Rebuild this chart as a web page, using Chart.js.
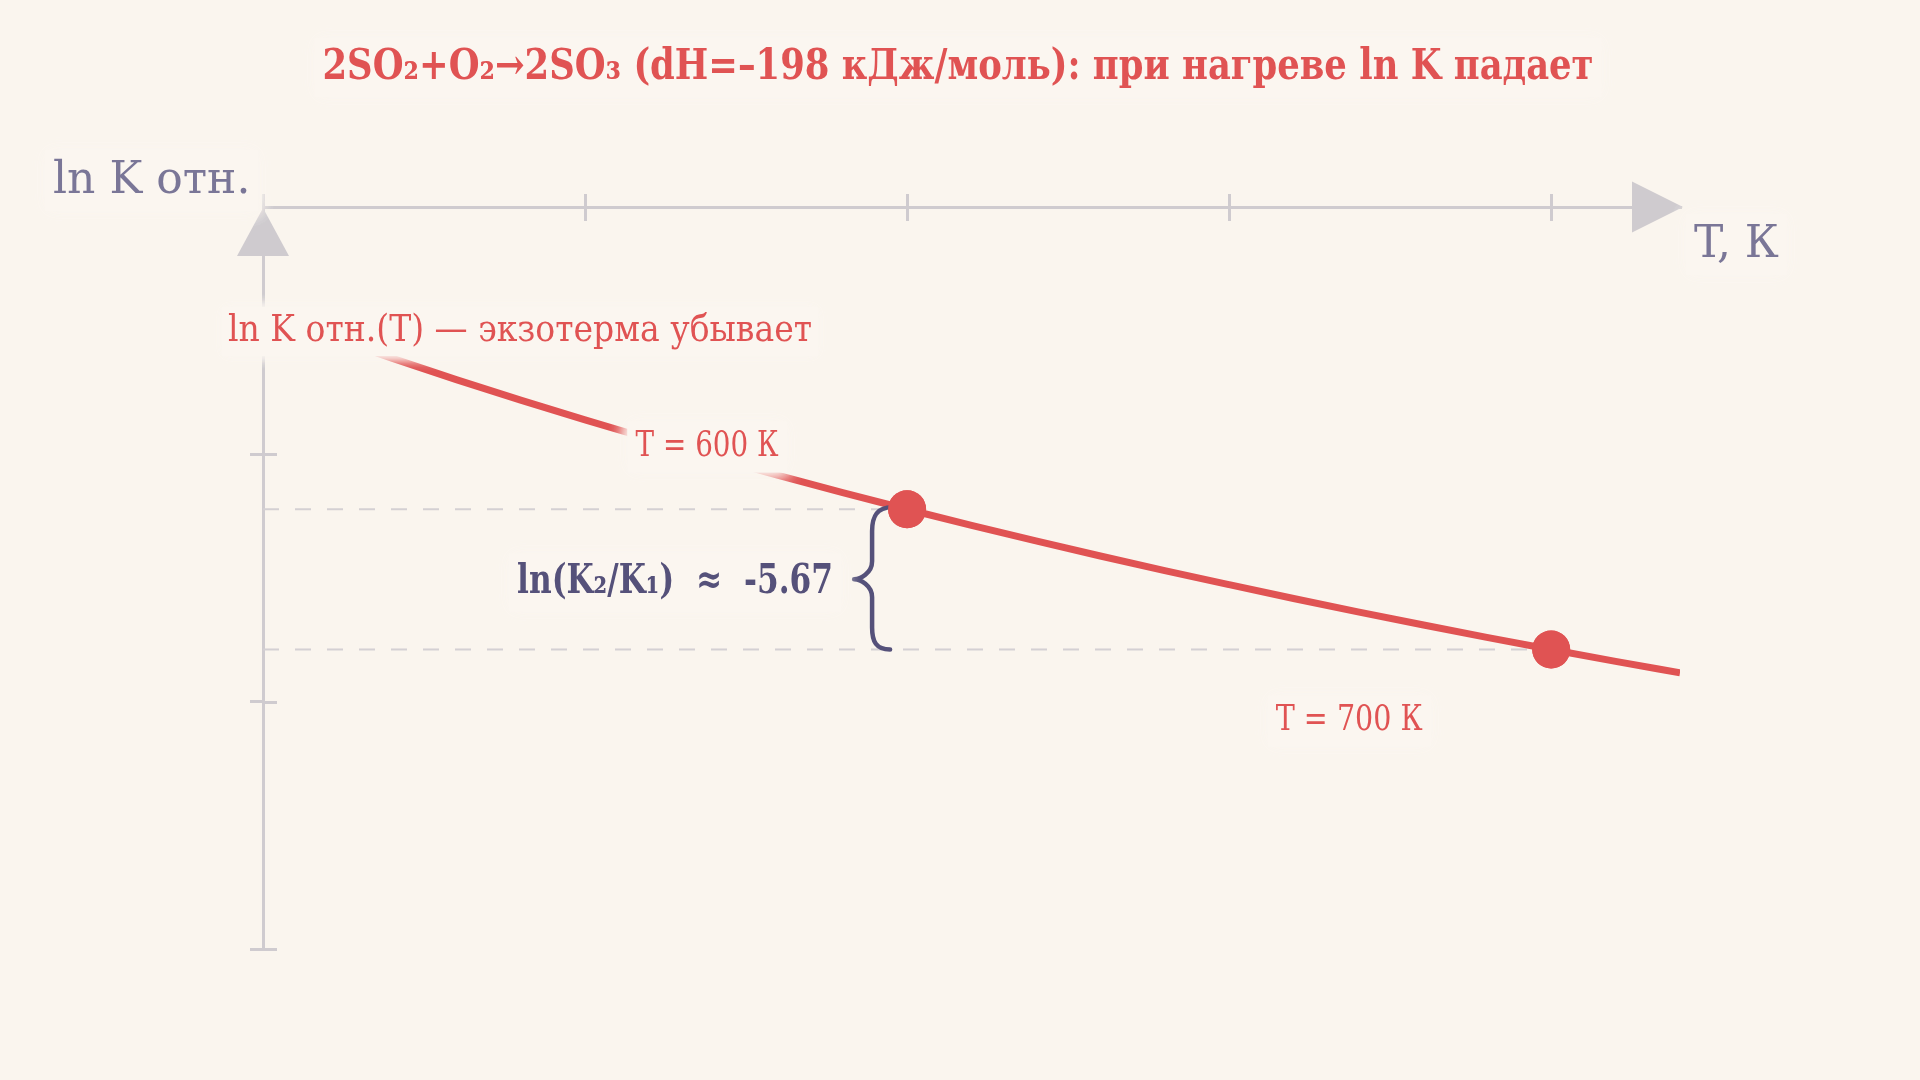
<!DOCTYPE html>
<html><head><meta charset="utf-8">
<script src="https://cdn.jsdelivr.net/npm/chart.js@4.4.1/dist/chart.umd.min.js"></script>
<style>html,body{margin:0;padding:0;background:#faf5ee;}canvas{display:block}</style>
</head><body>
<canvas id="c" width="1920" height="1080"></canvas>
<script>
// ---- data ----
const temperatures = [500,510,520,530,540,550,560,570,580,590,600,610,620,630,640,650,660,670,680,690,700,710,720];
const lnKRel = [25.72,24.79,23.89,23.02,22.19,21.39,20.62,19.87,19.15,18.45,17.78,17.13,16.50,15.89,15.30,14.73,14.17,13.63,13.11,12.60,12.11,11.63,11.17];
const markerT = [600, 700];
const markerLnK = [17.78, 12.11];
const xTicks = [500, 550, 600, 650, 700];
const yTicks = [0, 10, 20, 30];
const titleText = '2SO₂+O₂→2SO₃ (dH=–198 кДж/моль): при нагреве ln K падает';
const yAxisTitle = 'ln K отн.';
const xAxisTitle = 'T, К';
const curveLabel = 'ln K отн.(T) — экзотерма убывает';
const markerLabels = ['T = 600 К', 'T = 700 К'];
const deltaLabel = 'ln(K₂/K₁)  ≈  -5.67';

// ---- styles ----
const BG = '#faf5ee', BOX = '#fbf6f0';
const RED = '#e05353', GRAY = '#cfcbcf', DASH = '#d4d0d3', PURPLE = '#7a7697', DARK = '#55517a';
const SERIF = "'DejaVu Serif', serif";

function label(ctx, o) {
  ctx.save();
  ctx.font = o.font;
  ctx.textAlign = 'left';
  ctx.textBaseline = 'alphabetic';
  const m = ctx.measureText(o.text);
  const sx = o.width ? o.width / m.width : 1;
  const w = m.width * sx;
  let left = o.x;
  if (o.align === 'center') left = o.x - w / 2;
  if (o.align === 'right') left = o.x - w;
  const asc = m.fontBoundingBoxAscent || 30, desc = m.fontBoundingBoxDescent || 8;
  const pad = o.pad == null ? 8 : o.pad;
  if (o.box !== false) {
    ctx.fillStyle = BOX;
    ctx.shadowColor = BOX;
    ctx.shadowBlur = o.blur || 16;
    for (let i = 0; i < 3; i++) ctx.fillRect(left - pad, o.y - asc - pad + 6, w + 2 * pad, asc + desc + 2 * pad - 6);
    ctx.shadowBlur = 0;
  }
  ctx.fillStyle = o.color;
  ctx.translate(left, o.y);
  ctx.scale(sx, 1);
  ctx.fillText(o.text, 0, 0);
  ctx.restore();
}

const decor = {
  id: 'decor',
  beforeDatasetsDraw(chart) {
    const ctx = chart.ctx, xs = chart.scales.x, ys = chart.scales.y;
    const ax = xs.getPixelForValue(xs.min), ay = ys.getPixelForValue(ys.max);
    ctx.save();
    ctx.strokeStyle = GRAY; ctx.lineWidth = 3;
    xTicks.forEach(v => { if (v === xs.min) return; const px = Math.round(xs.getPixelForValue(v)) + 0.5; ctx.beginPath(); ctx.moveTo(px, ay); ctx.lineTo(px, ay + 14); ctx.stroke(); });
    yTicks.forEach(v => { if (v === ys.max) return; const py = Math.round(ys.getPixelForValue(v)) + 0.5; ctx.beginPath(); ctx.moveTo(ax, py); ctx.lineTo(ax + 14, py); ctx.stroke(); });
    ctx.strokeStyle = DASH; ctx.lineWidth = 2; ctx.setLineDash([16, 16]);
    markerT.forEach((t, i) => {
      const px = xs.getPixelForValue(t), py = ys.getPixelForValue(markerLnK[i]);
      ctx.beginPath(); ctx.moveTo(ax, py); ctx.lineTo(px, py); ctx.stroke();
    });
    ctx.restore();
  },
  afterDatasetsDraw(chart) {
    const ctx = chart.ctx, xs = chart.scales.x, ys = chart.scales.y, ca = chart.chartArea;
    const ax = xs.getPixelForValue(xs.min), ay = ys.getPixelForValue(ys.max);
    ctx.save();
    ctx.fillStyle = GRAY;
    const tipX = ca.right + 3;
    ctx.beginPath(); ctx.moveTo(tipX, ay); ctx.lineTo(tipX - 51, ay - 25.5); ctx.lineTo(tipX - 51, ay + 25.5); ctx.closePath(); ctx.fill();
    ctx.beginPath(); ctx.moveTo(ax, ay + 1); ctx.lineTo(ax - 26, ay + 49); ctx.lineTo(ax + 26, ay + 49); ctx.closePath(); ctx.fill();
    ctx.restore();

    const p1x = xs.getPixelForValue(markerT[0]), p1y = ys.getPixelForValue(markerLnK[0]);
    const p2x = xs.getPixelForValue(markerT[1]), p2y = ys.getPixelForValue(markerLnK[1]);

    label(ctx, {text: titleText, x: 958, y: 79, font: "bold 42px " + SERIF, width: 1271, color: RED, align: 'center'});
    label(ctx, {text: yAxisTitle, x: 53, y: 193, font: "44px " + SERIF, color: PURPLE});
    label(ctx, {text: xAxisTitle, x: 1694, y: 257, font: "44px " + SERIF, color: PURPLE});
    label(ctx, {text: curveLabel, x: ax - 35, y: 341, font: "37px " + SERIF, width: 584, color: RED, blur: 12, pad: 6});
    label(ctx, {text: markerLabels[0], x: p1x - 200, y: p1y - 53, font: "36px " + SERIF, width: 143, color: RED, align: 'center'});
    label(ctx, {text: markerLabels[1], x: p2x - 202, y: p2y + 81, font: "36px " + SERIF, width: 147, color: RED, align: 'center'});

    const xe = p1x - 17, xb = p1x - 35, xt = p1x - 53, ym = (p1y + p2y) / 2;
    ctx.save();
    ctx.strokeStyle = DARK; ctx.lineWidth = 4.5; ctx.lineCap = 'round'; ctx.lineJoin = 'round';
    ctx.beginPath();
    ctx.moveTo(xe + 2, p1y - 2);
    ctx.bezierCurveTo(xb + 4, p1y - 2, xb, p1y + 8, xb, p1y + 22);
    ctx.lineTo(xb, ym - 18);
    ctx.bezierCurveTo(xb, ym - 6, xt + 6, ym, xt, ym);
    ctx.bezierCurveTo(xt + 6, ym, xb, ym + 6, xb, ym + 18);
    ctx.lineTo(xb, p2y - 22);
    ctx.bezierCurveTo(xb, p2y - 8, xb + 4, p2y, xe, p2y);
    ctx.stroke();
    ctx.restore();
    label(ctx, {text: deltaLabel, x: xt - 21, y: ym + 14, font: "bold 41px " + SERIF, width: 316, color: DARK, align: 'right'});

    chart.getDatasetMeta(1).controller.draw();
  }
};

const bgPlugin = {
  id: 'bg',
  beforeDraw(chart) { const c = chart.ctx; c.save(); c.fillStyle = BG; c.fillRect(0, 0, chart.width, chart.height); c.restore(); }
};

new Chart(document.getElementById('c').getContext('2d'), {
  type: 'line',
  data: {
    datasets: [
      { data: temperatures.map((t, i) => ({x: t, y: lnKRel[i]})), borderColor: RED, borderWidth: 7, pointRadius: 0, cubicInterpolationMode: 'monotone', fill: false, borderCapStyle: 'butt' },
      { data: markerT.map((t, i) => ({x: t, y: markerLnK[i]})), showLine: false, pointRadius: 19, pointBackgroundColor: RED, pointBorderWidth: 0, pointBorderColor: RED }
    ]
  },
  options: {
    responsive: false, animation: false, devicePixelRatio: 1,
    layout: {padding: {left: 250, top: 194, right: 240, bottom: 131}},
    plugins: {legend: {display: false}, tooltip: {enabled: false}},
    scales: {
      x: {
        type: 'linear', position: 'top', min: 500, max: 720,
        afterBuildTicks: s => { s.ticks = xTicks.map(v => ({value: v})); },
        ticks: {display: false},
        grid: {drawOnChartArea: false, drawTicks: true, tickLength: 13, color: GRAY, lineWidth: 3},
        border: {color: GRAY, width: 3}
      },
      y: {
        type: 'linear', min: 0, max: 30,
        afterBuildTicks: s => { s.ticks = yTicks.map(v => ({value: v})); },
        ticks: {display: false},
        grid: {drawOnChartArea: false, drawTicks: true, tickLength: 13, lineWidth: 3,
               color: c => (c.tick && c.tick.value === 30) ? 'rgba(0,0,0,0)' : GRAY},
        border: {color: GRAY, width: 3}
      }
    }
  },
  plugins: [bgPlugin, decor]
});
</script>
</body></html>
